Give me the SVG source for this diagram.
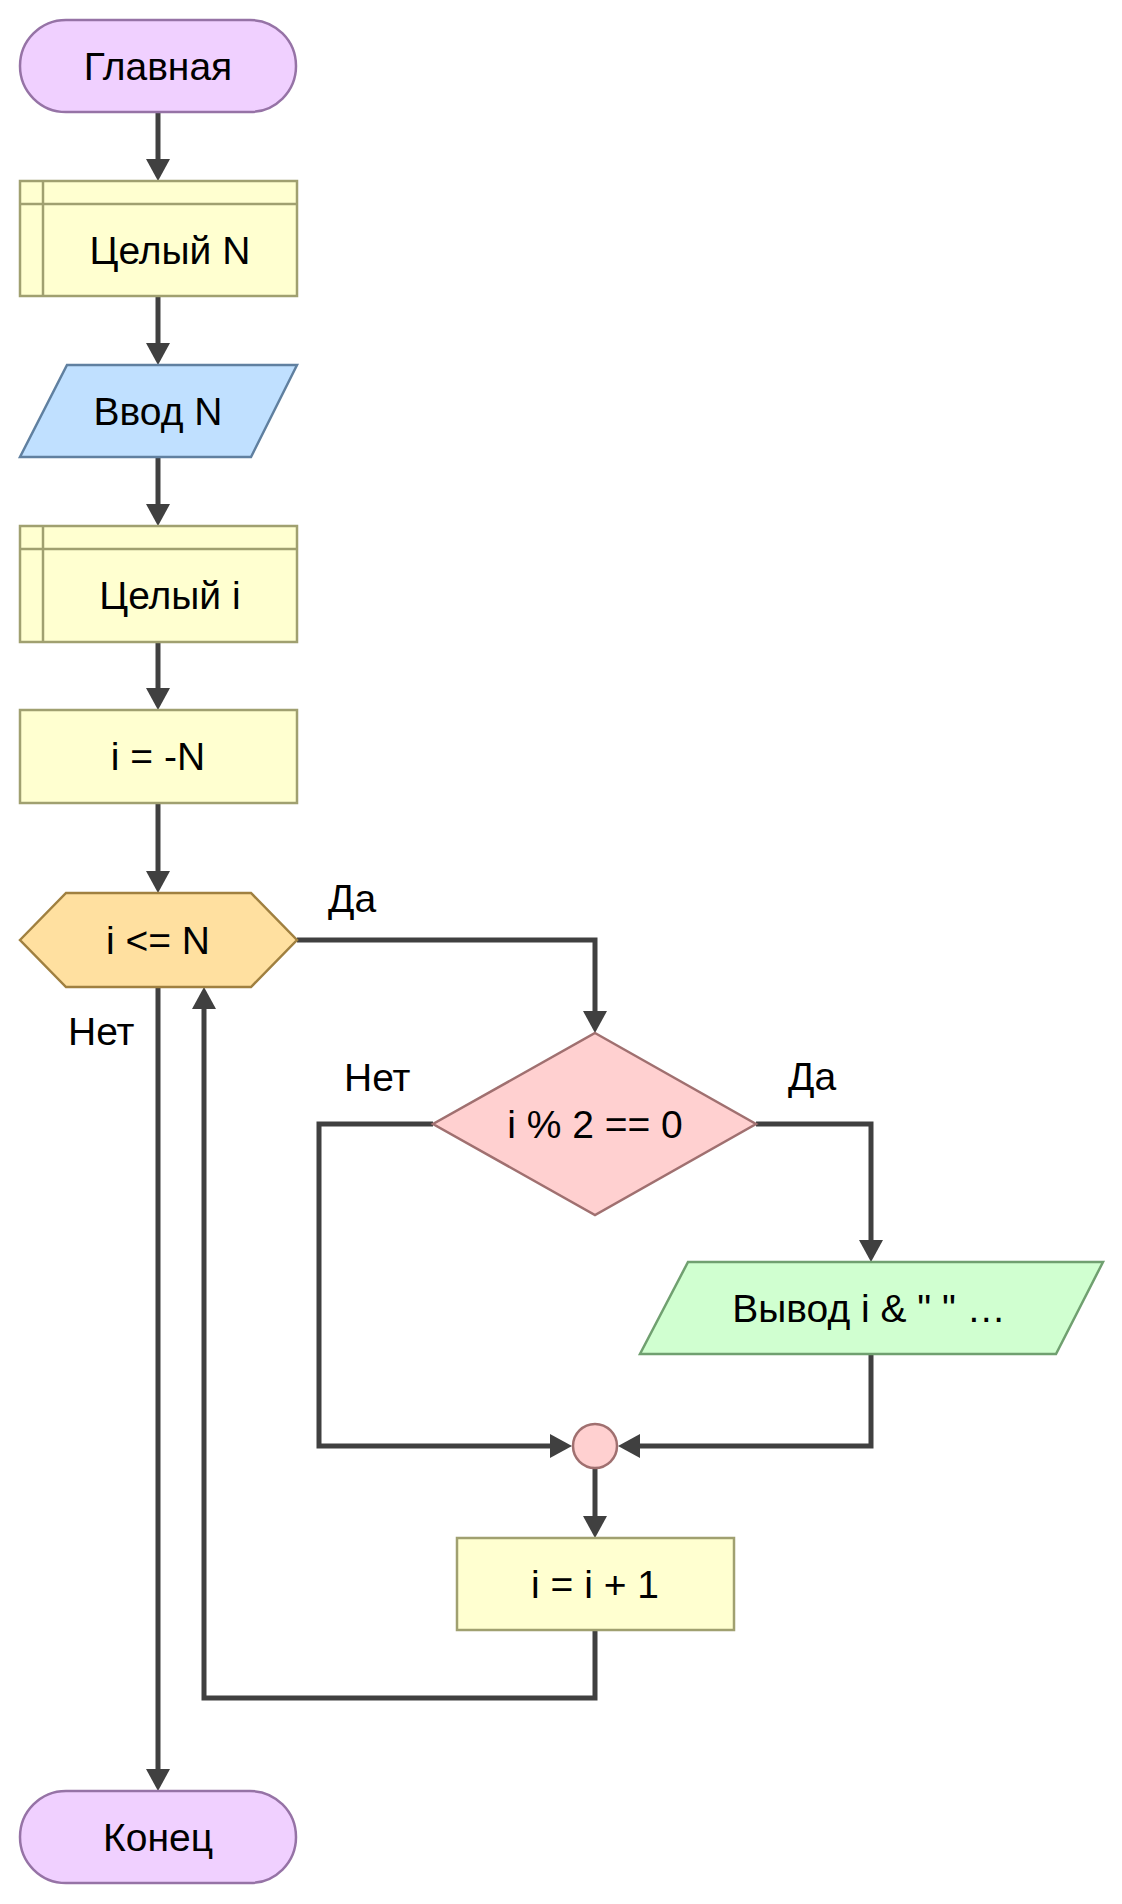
<svg xmlns="http://www.w3.org/2000/svg" width="1122" height="1904" viewBox="0 0 1122 1904">
<style>
  .t { font-family: "Liberation Sans", Arial, sans-serif; font-size: 39px; fill: #000; text-anchor: middle; }
  .lbl { font-family: "Liberation Sans", Arial, sans-serif; font-size: 39px; fill: #000; }
  .term { fill: #F0D0FF; stroke: #9673A6; stroke-width: 2.5; }
  .proc { fill: #FFFFD0; stroke: #A0A070; stroke-width: 2.5; }
  .inp { fill: #C0E0FF; stroke: #6080A0; stroke-width: 2.5; }
  .hex { fill: #FFE0A0; stroke: #A08040; stroke-width: 2.5; }
  .dec { fill: #FFD0D0; stroke: #A07070; stroke-width: 2.5; }
  .out { fill: #D0FFD0; stroke: #70A070; stroke-width: 2.5; }
  .conn { fill: none; stroke: #404040; stroke-width: 5; marker-end: url(#arr); }
</style>
<defs>
  <marker id="arr" markerUnits="userSpaceOnUse" markerWidth="22" markerHeight="24" refX="0" refY="12" orient="auto" overflow="visible">
    <path d="M0,0 L22,12 L0,24 Z" fill="#404040"/>
  </marker>
</defs>
<rect width="1122" height="1904" fill="#FFFFFF"/>

<g id="connectors">
  <path class="conn" d="M158,112 V159"/>
  <path class="conn" d="M158,296 V343"/>
  <path class="conn" d="M158,457 V504"/>
  <path class="conn" d="M158,642 V688"/>
  <path class="conn" d="M158,803 V871"/>
  <path class="conn" d="M297,940 H595 V1011"/>
  <path class="conn" d="M756,1124 H871 V1240"/>
  <path class="conn" d="M433,1124 H319 V1446 H550"/>
  <path class="conn" d="M871,1354 V1446 H640"/>
  <path class="conn" d="M595,1469 V1516"/>
  <path class="conn" d="M595,1630 V1698 H204 V1009"/>
  <path class="conn" d="M158,987 V1769"/>
</g>

<g id="n-start">
  <rect class="term" x="20" y="20" width="276" height="92" rx="46" ry="46"/>
  <text class="t" x="158" y="80">Главная</text>
</g>

<g id="n-int-n">
  <rect class="proc" x="20" y="181" width="277" height="115"/>
  <line class="proc" x1="43" y1="181" x2="43" y2="296"/>
  <line class="proc" x1="20" y1="204" x2="297" y2="204"/>
  <text class="t" x="170" y="264">Целый N</text>
</g>

<g id="n-input">
  <polygon class="inp" points="67,365 297,365 251,457 20,457"/>
  <text class="t" x="158" y="425">Ввод N</text>
</g>

<g id="n-int-i">
  <rect class="proc" x="20" y="526" width="277" height="116"/>
  <line class="proc" x1="43" y1="526" x2="43" y2="642"/>
  <line class="proc" x1="20" y1="549" x2="297" y2="549"/>
  <text class="t" x="170" y="609">Целый i</text>
</g>

<g id="n-assign">
  <rect class="proc" x="20" y="710" width="277" height="93"/>
  <text class="t" x="158" y="770">i = -N</text>
</g>

<g id="n-loop">
  <polygon class="hex" points="20,940 66,893 251,893 297,940 251,987 66,987"/>
  <text class="t" x="158" y="954">i &lt;= N</text>
</g>

<g id="n-cond">
  <polygon class="dec" points="595,1033 756,1124 595,1215 433,1124"/>
  <text class="t" x="595" y="1138">i % 2 == 0</text>
</g>

<g id="n-output">
  <polygon class="out" points="688,1262 1103,1262 1056,1354 640,1354"/>
  <text class="t" x="869" y="1322">Вывод i &amp; " " …</text>
</g>

<g id="n-join">
  <circle class="dec" cx="595" cy="1446" r="22"/>
</g>

<g id="n-incr">
  <rect class="proc" x="457" y="1538" width="277" height="92"/>
  <text class="t" x="595" y="1598">i = i + 1</text>
</g>

<g id="n-end">
  <rect class="term" x="20" y="1791" width="276" height="92" rx="46" ry="46"/>
  <text class="t" x="158" y="1851">Конец</text>
</g>

<g id="labels">
  <text class="lbl" x="328" y="912">Да</text>
  <text class="lbl" x="68" y="1045">Нет</text>
  <text class="lbl" x="344" y="1091">Нет</text>
  <text class="lbl" x="788" y="1090">Да</text>
</g>
</svg>
